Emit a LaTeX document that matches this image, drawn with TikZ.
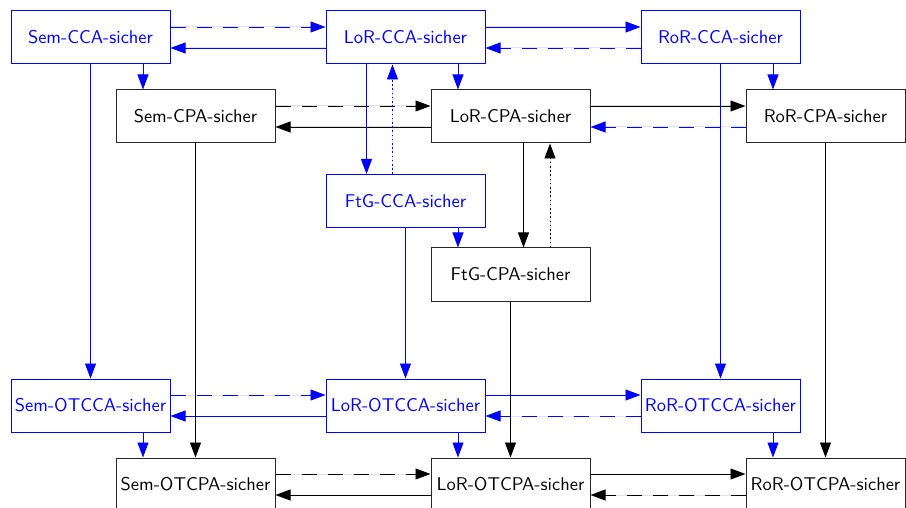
\documentclass[tikz,border=0pt]{standalone}
\usepackage{fontspec}
\usepackage{graphicx}
\usetikzlibrary{arrows.meta}
\newcommand{\bigtxt}[1]{\scalebox{1.845}{#1}}
\tikzset{
  box/.style={draw, rectangle, line width=1pt, minimum width=159pt, minimum height=53pt, inner sep=0pt,
    font=\sffamily\fontsize{10pt}{12pt}\selectfont},
  bbox/.style={box, draw=blue, text=blue},
  kbox/.style={box, draw=black!85, text=black},
  con/.style={line width=0.8pt, -{Triangle[length=15pt,width=11pt]}},
  bcon/.style={con, draw=blue, fill=blue},
  kcon/.style={con, draw=black, fill=black},
  dsh/.style={dash pattern=on 15pt off 11pt},
  dot/.style={dash pattern=on 1.6pt off 2.6pt},
}
\begin{document}
\begin{tikzpicture}[x=1pt,y=-1pt]
\useasboundingbox (0,0) rectangle (906,508);
\clip (0,0) rectangle (906,508);
% nodes
\node[bbox] (semcca) at (90.5,37.5) {\bigtxt{Sem-CCA-sicher}};
\node[bbox] (lorcca) at (405.5,37.5) {\bigtxt{LoR-CCA-sicher}};
\node[bbox] (rorcca) at (720.5,37.5) {\bigtxt{RoR-CCA-sicher}};
\node[kbox] (semcpa) at (195.5,116.5) {\bigtxt{Sem-CPA-sicher}};
\node[kbox] (lorcpa) at (510.5,116.5) {\bigtxt{LoR-CPA-sicher}};
\node[kbox] (rorcpa) at (825.5,116.5) {\bigtxt{RoR-CPA-sicher}};
\node[bbox] (ftgcca) at (405.5,201) {\bigtxt{FtG-CCA-sicher}};
\node[kbox] (ftgcpa) at (510.5,274.5) {\bigtxt{FtG-CPA-sicher}};
\node[bbox] (semotcca) at (90.5,405.5) {\bigtxt{Sem-OTCCA-sicher}};
\node[bbox] (lorotcca) at (405.5,405.5) {\bigtxt{LoR-OTCCA-sicher}};
\node[bbox] (rorotcca) at (720.5,405.5) {\bigtxt{RoR-OTCCA-sicher}};
\node[kbox] (semotcpa) at (195.5,484.5) {\bigtxt{Sem-OTCPA-sicher}};
\node[kbox] (lorotcpa) at (510.5,484.5) {\bigtxt{LoR-OTCPA-sicher}};
\node[kbox] (rorotcpa) at (825.5,484.5) {\bigtxt{RoR-OTCPA-sicher}};
% horizontal: CCA row
\draw[bcon,dsh] ([yshift=10.5pt]semcca.east) -- ([yshift=10.5pt]lorcca.west);
\draw[bcon] ([yshift=-10.5pt]lorcca.west) -- ([yshift=-10.5pt]semcca.east);
\draw[bcon] ([yshift=10.5pt]lorcca.east) -- ([yshift=10.5pt]rorcca.west);
\draw[bcon,dsh] ([yshift=-10.5pt]rorcca.west) -- ([yshift=-10.5pt]lorcca.east);
% CPA row
\draw[kcon,dsh] ([yshift=10.5pt]semcpa.east) -- ([yshift=10.5pt]lorcpa.west);
\draw[kcon] ([yshift=-10.5pt]lorcpa.west) -- ([yshift=-10.5pt]semcpa.east);
\draw[kcon] ([yshift=10.5pt]lorcpa.east) -- ([yshift=10.5pt]rorcpa.west);
\draw[bcon,dsh] ([yshift=-10.5pt]rorcpa.west) -- ([yshift=-10.5pt]lorcpa.east);
% OTCCA row
\draw[bcon,dsh] ([yshift=10.5pt]semotcca.east) -- ([yshift=10.5pt]lorotcca.west);
\draw[bcon] ([yshift=-10.5pt]lorotcca.west) -- ([yshift=-10.5pt]semotcca.east);
\draw[bcon] ([yshift=10.5pt]lorotcca.east) -- ([yshift=10.5pt]rorotcca.west);
\draw[bcon,dsh] ([yshift=-10.5pt]rorotcca.west) -- ([yshift=-10.5pt]lorotcca.east);
% OTCPA row
\draw[kcon,dsh] ([yshift=10.5pt]semotcpa.east) -- ([yshift=10.5pt]lorotcpa.west);
\draw[kcon] ([yshift=-10.5pt]lorotcpa.west) -- ([yshift=-10.5pt]semotcpa.east);
\draw[kcon] ([yshift=10.5pt]lorotcpa.east) -- ([yshift=10.5pt]rorotcpa.west);
\draw[kcon,dsh] ([yshift=-10.5pt]rorotcpa.west) -- ([yshift=-10.5pt]lorotcpa.east);
% short offset verticals (CCA -> CPA)
\draw[bcon] ([xshift=52.5pt]semcca.south) -- ([xshift=-52.5pt]semcpa.north);
\draw[bcon] ([xshift=52.5pt]lorcca.south) -- ([xshift=-52.5pt]lorcpa.north);
\draw[bcon] ([xshift=52.5pt]rorcca.south) -- ([xshift=-52.5pt]rorcpa.north);
\draw[bcon] ([xshift=52.5pt]ftgcca.south) -- ([xshift=-52.5pt]ftgcpa.north);
\draw[bcon] ([xshift=52.5pt]semotcca.south) -- ([xshift=-52.5pt]semotcpa.north);
\draw[bcon] ([xshift=52.5pt]lorotcca.south) -- ([xshift=-52.5pt]lorotcpa.north);
\draw[bcon] ([xshift=52.5pt]rorotcca.south) -- ([xshift=-52.5pt]rorotcpa.north);
% long verticals
\draw[bcon] (semcca.south) -- (semotcca.north);
\draw[kcon] (semcpa.south) -- (semotcpa.north);
\draw[bcon] (rorcca.south) -- (rorotcca.north);
\draw[kcon] (rorcpa.south) -- (rorotcpa.north);
\draw[bcon] (ftgcca.south) -- (lorotcca.north);
\draw[kcon] (ftgcpa.south) -- (lorotcpa.north);
% LoR <-> FtG
\draw[bcon] ([xshift=-39pt]lorcca.south) -- ([xshift=-39pt]ftgcca.north);
\draw[bcon,dot] ([xshift=-13pt]ftgcca.north) -- ([xshift=-13pt]lorcca.south);
\draw[kcon] ([xshift=13pt]lorcpa.south) -- ([xshift=13pt]ftgcpa.north);
\draw[kcon,dot] ([xshift=39.5pt]ftgcpa.north) -- ([xshift=39.5pt]lorcpa.south);
\end{tikzpicture}
\end{document}
